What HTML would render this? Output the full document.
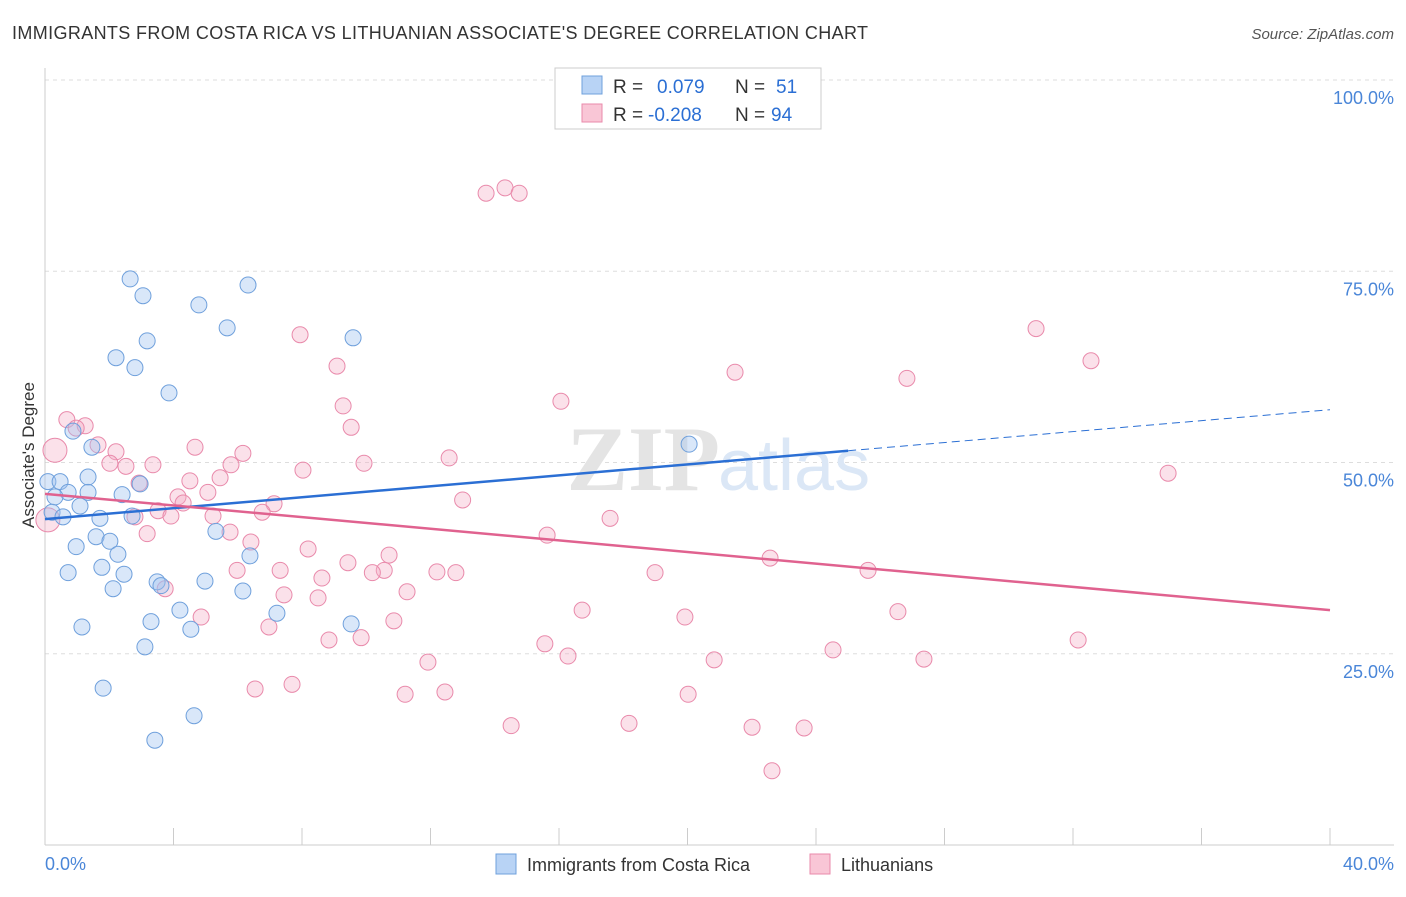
<!DOCTYPE html>
<html><head><meta charset="utf-8"><style>
body{margin:0;background:#fff;font-family:"Liberation Sans",sans-serif}
</style></head><body>
<svg width="1406" height="892" viewBox="0 0 1406 892" xmlns="http://www.w3.org/2000/svg">
<text x="12" y="39" font-size="18" fill="#333" textLength="856">IMMIGRANTS FROM COSTA RICA VS LITHUANIAN ASSOCIATE'S DEGREE CORRELATION CHART</text>
<text x="1394" y="39" font-size="15" fill="#555" font-style="italic" text-anchor="end">Source: ZipAtlas.com</text>
<g id="grid"></g>
<text x="720" y="490" font-size="92" font-weight="bold" fill="#e4e4e4" text-anchor="end" font-family="Liberation Serif">ZIP</text>
<text x="718" y="490" font-size="72" fill="#dbe7f6">atlas</text>
<g id="pts"></g>
<g id="lines"></g>
<text transform="translate(34,455) rotate(-90)" font-size="17" fill="#333" text-anchor="middle">Associate's Degree</text>
<g>
<rect x="555" y="68" width="266" height="61" fill="#fff" stroke="#ccc"/>
<rect x="582" y="76" width="20" height="18" fill="#b8d3f5" stroke="#6fa0dc"/>
<rect x="582" y="104" width="20" height="18" fill="#f9c6d6" stroke="#e98aab"/>
<text x="613" y="93" font-size="19" fill="#333">R =</text>
<text x="657" y="93" font-size="19" fill="#2b6fd4">0.079</text>
<text x="735" y="93" font-size="19" fill="#333">N =</text>
<text x="776" y="93" font-size="19" fill="#2b6fd4">51</text>
<text x="613" y="121" font-size="19" fill="#333">R =</text>
<text x="648" y="121" font-size="19" fill="#2b6fd4">-0.208</text>
<text x="735" y="121" font-size="19" fill="#333">N =</text>
<text x="771" y="121" font-size="19" fill="#2b6fd4">94</text>
</g>
<g>
<rect x="496" y="854" width="20" height="20" fill="#b8d3f5" stroke="#6fa0dc"/>
<text x="527" y="871" font-size="18" fill="#333">Immigrants from Costa Rica</text>
<rect x="810" y="854" width="20" height="20" fill="#f9c6d6" stroke="#e98aab"/>
<text x="841" y="871" font-size="18" fill="#333">Lithuanians</text>
</g>
</svg>
<script>
const yTicks=[25,50,75,100];
const yTickLabels=["25.0%","50.0%","75.0%","100.0%"];
const xTickLabels=["0.0%","40.0%"];
const blueX=[2.65,3.05,4.79,6.32,5.67,3.18,9.59,2.21,2.80,3.86,20.05,0.87,1.46,0.09,0.47,1.34,1.34,0.72,0.31,2.40,2.96,1.09,0.22,0.56,1.71,2.71,5.32,1.59,2.02,0.97,2.27,6.38,1.77,0.72,2.46,3.49,3.61,4.98,2.12,6.16,4.20,7.22,3.30,1.15,4.54,9.53,3.11,1.81,4.64,3.42];
const blueY=[74.0,71.8,70.6,73.2,67.6,65.9,66.3,63.7,62.4,59.1,52.4,54.1,52.0,47.5,47.5,48.1,46.1,46.1,45.5,45.8,47.2,44.3,43.5,42.9,42.7,43.0,41.0,40.3,39.7,39.0,38.0,37.8,36.3,35.6,35.4,34.4,33.9,34.5,33.5,33.2,30.7,30.3,29.2,28.5,28.2,28.9,25.9,20.5,16.9,13.7];
const pinkX=[13.73,14.32,14.76,30.85,7.94,32.56,9.09,21.48,26.83,16.06,9.28,9.53,0.68,0.31,1.25,0.97,1.65,2.21,4.67,6.16,12.58,2.02,2.52,3.36,5.79,8.03,9.93,34.96,4.51,5.45,2.93,4.14,5.07,4.30,7.13,13.0,6.76,3.52,3.92,5.23,2.80,17.59,0.09,5.76,3.18,15.63,6.41,8.19,10.71,22.57,9.43,5.98,7.32,10.56,10.19,12.20,12.79,18.99,25.62,8.62,3.74,11.27,7.44,8.50,16.72,26.55,4.86,10.86,19.92,6.97,8.84,9.84,15.56,32.16,16.28,24.53,11.92,20.83,27.36,7.69,6.54,11.21,12.45,20.02,14.51,18.18,22.01,23.63,22.63];
const pinkY=[85.2,85.9,85.2,67.5,66.7,63.3,62.6,61.8,61.0,58.0,57.4,54.6,55.6,51.6,54.8,54.5,52.3,51.4,52.0,51.2,50.6,49.9,49.5,49.7,49.7,49.0,49.9,48.6,47.6,48.0,47.3,45.5,46.1,44.7,44.6,45.1,43.5,43.7,43.0,43.0,42.9,42.7,42.5,40.9,40.7,40.5,39.6,38.7,37.9,37.5,36.9,35.9,35.9,35.9,35.6,35.7,35.6,35.6,35.9,34.9,33.5,33.1,32.7,32.3,30.7,30.5,29.8,29.3,29.8,28.5,26.8,27.1,26.3,26.8,24.7,25.5,23.9,24.2,24.3,21.0,20.4,19.7,20.0,19.7,15.6,15.9,15.4,15.3,9.7];
const pinkBig=[13,42];
const blueTrend=[42.6,56.9];
const pinkTrend=[45.9,30.7];
const blueSolidEnd=25.0;
const X=v=>45+v/40*1285, Y=v=>845-v/100*765;
const NS="http://www.w3.org/2000/svg";
function mk(t,a,p){const e=document.createElementNS(NS,t);for(const k in a)e.setAttribute(k,a[k]);p.appendChild(e);return e;}
const grid=document.getElementById('grid');
yTicks.forEach((t,i)=>{
 const l=mk('line',{x1:45,x2:1394,y1:Y(t),y2:Y(t),stroke:'#ddd','stroke-dasharray':'4,4'},grid);
 
 
 const tx=mk('text',{x:1394,y:Y(t)+24,'font-size':18,fill:'#4a86d8','text-anchor':'end'},grid);
 tx.textContent=yTickLabels[i];
 
 
});
const ax=mk('line',{x1:45,x2:1394,y1:845,y2:845,stroke:'#ccc'},grid);


const ay=mk('line',{x1:45,x2:45,y1:68,y2:845,stroke:'#ccc'},grid);


for(let i=0;i<=10;i++){const t=mk('line',{x1:X(i*4),x2:X(i*4),y1:828,y2:845,stroke:'#ccc'},grid);
 
 }
[[0,'start',45],[40,'end',1394]].forEach((d,i)=>{const t=mk('text',{x:d[2],y:870,'font-size':18,fill:'#4a86d8','text-anchor':d[1]},grid);t.textContent=xTickLabels[i];
 
 });
const pts=document.getElementById('pts');
pinkX.forEach((x,i)=>{const c=mk('circle',{cx:X(x),cy:Y(pinkY[i]),r:pinkBig.includes(i)?12:8,fill:'rgba(244,170,196,0.35)',stroke:'#e98aab','stroke-width':1},pts);
 
 });
blueX.forEach((x,i)=>{const c=mk('circle',{cx:X(x),cy:Y(blueY[i]),r:8,fill:'rgba(160,196,240,0.4)',stroke:'#6fa0dc','stroke-width':1},pts);
 
 });
const lines=document.getElementById('lines');
const by=x=>blueTrend[0]+(blueTrend[1]-blueTrend[0])*x/40;
let l1=mk('line',{x1:X(0),y1:Y(by(0)),x2:X(blueSolidEnd),y2:Y(by(blueSolidEnd)),stroke:'#2b6fd4','stroke-width':2.5},lines);


let l2=mk('line',{x1:X(blueSolidEnd),y1:Y(by(blueSolidEnd)),x2:X(40),y2:Y(by(40)),stroke:'#2b6fd4','stroke-width':1,'stroke-dasharray':'8,5'},lines);


let l3=mk('line',{x1:X(0),y1:Y(pinkTrend[0]),x2:X(40),y2:Y(pinkTrend[1]),stroke:'#e0628f','stroke-width':2.5},lines);


</script>
</body></html>
